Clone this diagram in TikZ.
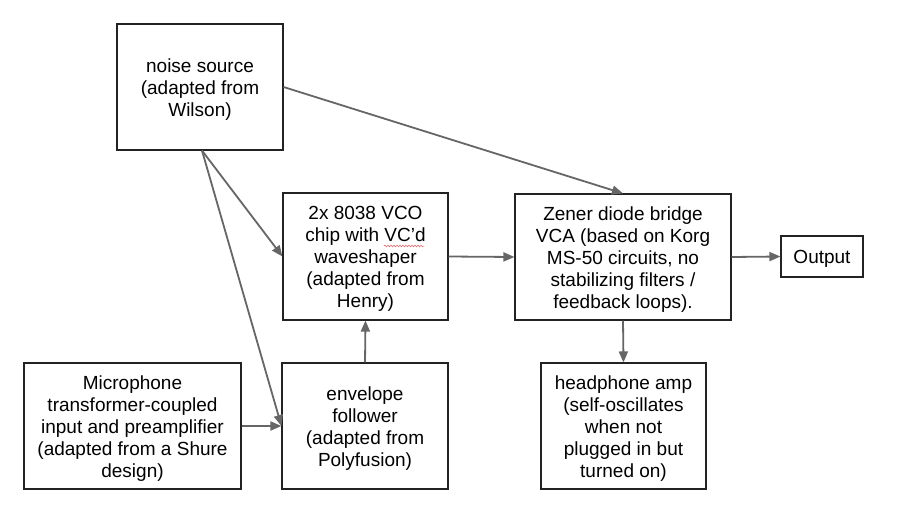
\documentclass[tikz,border=0pt]{standalone}
\usepackage{fontspec}
\setmainfont{Liberation Sans}
\usetikzlibrary{arrows.meta,decorations.pathmorphing,calc}
\definecolor{arrowgray}{HTML}{666666}
\definecolor{boxline}{HTML}{222222}
\definecolor{spellred}{HTML}{E06060}
\newcommand{\lowtext}[1]{\raisebox{-3pt}[\height][\depth]{\begin{tabular}{@{}c@{}}#1\end{tabular}}}
\begin{document}
\begin{tikzpicture}[x=1pt,y=-1pt,
  blockbox/.style={draw=boxline,line width=1.1pt,rectangle,inner sep=0pt,align=center,
    font=\fontsize{19}{22}\selectfont,text=black},
  flow/.style={draw=arrowgray,line width=1.8pt,-{Triangle[length=11pt,width=9pt]}}]
\useasboundingbox[fill=white] (0,0) rectangle (899,519);
\node[blockbox,minimum width=166pt,minimum height=126pt] (noise) at (200,87)
  {\lowtext{noise source\\(adapted from\\Wilson)}};
\node[blockbox,minimum width=165pt,minimum height=127pt] (vco) at (365.5,256.5)
  {\lowtext{2x 8038 VCO\\chip with VC'd\\waveshaper\\(adapted from\\Henry)}};
\node[blockbox,minimum width=216pt,minimum height=126pt] (vca) at (623,257)
  {\lowtext{Zener diode bridge\\VCA (based on Korg\\MS-50 circuits, no\\stabilizing filters /\\feedback loops).}};
\node[blockbox,minimum width=82pt,minimum height=41pt] (out) at (822,256.5)
  {\lowtext{Output}};
\node[blockbox,minimum width=217pt,minimum height=126pt] (mic) at (132.5,426)
  {\lowtext{Microphone\\transformer-coupled\\input and preamplifier\\(adapted from a Shure\\design)}};
\node[blockbox,minimum width=166pt,minimum height=126pt] (env) at (365,426)
  {\lowtext{envelope\\follower\\(adapted from\\Polyfusion)}};
\node[blockbox,minimum width=165pt,minimum height=126pt] (hp) at (623.5,426)
  {\lowtext{headphone amp\\(self-oscillates\\when not\\plugged in but\\turned on)}};
\coordinate (nsrc) at ($(noise.south)+(2,0)$);
\draw[flow] (nsrc) -- (vco.west);
\draw[flow] (nsrc) -- (env.west);
\draw[flow] (mic.east) -- (env.west);
\draw[flow] (env.north) -- (vco.south);
\draw[flow] (vco.east) -- (vca.west);
\draw[flow] (noise.east) -- (vca.north);
\draw[flow] (vca.east) -- (out.west);
\draw[flow] (vca.south) -- (hp.north);
\coordinate (sq1) at (384,246);
\coordinate (sq2) at (424,246);
\draw[spellred,line width=0.5pt,decorate,decoration={snake,amplitude=0.9pt,segment length=3pt}] (sq1) -- (sq2);
\end{tikzpicture}
\end{document}
